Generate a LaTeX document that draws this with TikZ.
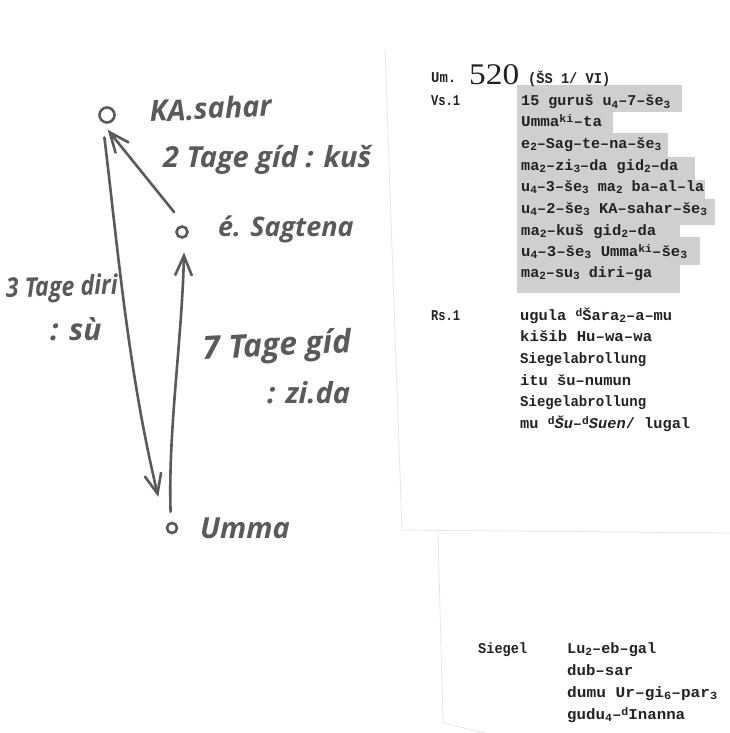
\documentclass[tikz,border=0pt]{standalone}
\usepackage{fontspec}
\usetikzlibrary{arrows.meta}
\setmainfont{Liberation Serif}
\newfontfamily\printfont{Liberation Mono}
\newfontfamily\handfont{Open Sans}
\newcommand{\dn}[1]{\raisebox{-2.5pt}{\fontsize{11}{11}\selectfont #1}}
\newcommand{\up}[1]{\raisebox{4pt}{\fontsize{11}{11}\selectfont #1}}
\newcommand{\fitw}[2]{\resizebox{#1pt}{\height}{#2}}
\definecolor{ink}{HTML}{222222}
\definecolor{pen}{HTML}{5A5A5A}
\definecolor{greyband}{HTML}{CFCFCF}
\definecolor{edge}{HTML}{E6E6E6}
\tikzset{
  x=1pt,y=-1pt,
  pr/.style={anchor=base west,inner sep=0pt,text=ink,font=\printfont\bfseries\fontsize{15}{15}\selectfont},
  hw/.style={anchor=base west,inner sep=0pt,text=pen,font=\handfont\itshape\bfseries\fontsize{#1}{#1}\selectfont},
  place/.style={circle,draw=pen,line width=2.6pt,inner sep=0pt,minimum size=#1},
  pencil/.style={draw=pen,line width=2.6pt,line cap=round},
  headed/.style={pencil,-{Straight Barb[length=20pt,width=17pt]}},
  paper/.style={draw=edge,line width=0.8pt},
  band/.style={fill=greyband}
}
\begin{document}
\begin{tikzpicture}
\useasboundingbox (0,0) rectangle (730,733);
\fill[white] (0,0) rectangle (730,733);
% paper edges
\draw[paper] (385,50) -- (402,530) -- (730,533);
\draw[paper] (438,533) -- (443,723) -- (485,733);
% shaded lines
\fill[band] (517,85) rectangle (682,112);
\fill[band] (517,112) rectangle (613,133);
\fill[band] (517,133) rectangle (668,157);
\fill[band] (517,157) rectangle (695,180);
\fill[band] (517,180) rectangle (705,199);
\fill[band] (517,199) rectangle (715,225);
\fill[band] (517,225) rectangle (680,237);
\fill[band] (517,237) rectangle (700,265);
\fill[band] (517,265) rectangle (680,293);
% places
\node[place=15pt] (ka) at (107,115) {};
\node[place=11pt] (eb) at (182,232) {};
\node[place=10pt] (um) at (172,528) {};
% routes
\draw[headed,shorten <=15pt,shorten >=32pt] (ka.240) .. controls (118,250) and (128,370) .. (um.west);
\draw[headed,shorten <=10pt,shorten >=14pt] (um.100) .. controls (168,430) and (182,340) .. (eb.-70);
\draw[headed,shorten <=18pt,shorten >=11pt] (eb.60) -- (ka.225);
% handwritten labels
\node[hw=29,rotate=3] (l1) at (150,122) {KA.sahar};
\node[hw=29] (l2) at (163,167) {2 Tage gíd : kuš};
\node[hw=27] (l3) at (218,236) {é. Sagtena};
\node[hw=27,rotate=2] (l4) at (6,298) {\fitw{112}{3 Tage diri}};
\node[hw=30] (l5) at (50,340) {: sù};
\node[hw=32,rotate=3] (l6) at (203,360) {7 Tage gíd};
\node[hw=29] (l7) at (267,403) {: zi.da};
\node[hw=29] (l8) at (200,538) {Umma};
% print: header
\node[pr] (t0) at (431,83) {\fitw{25}{Um.}};
\node[anchor=base west,inner sep=0pt,text=ink,font=\fontsize{30}{30}\selectfont] (t1) at (469,85) {\fitw{50}{520}};
\node[pr] (t2) at (528,84) {\fitw{82}{(ŠS 1/ VI)}};
\node[pr] (v0) at (431,106) {\fitw{29}{Vs.1}};
\node[pr] (v1) at (521,106) {\fitw{149}{15 guruš u\dn{4}–7–še\dn{3}}};
\node[pr] (v2) at (521,127) {\fitw{81}{Umma\up{ki}–ta}};
\node[pr] (v3) at (521,148) {\fitw{140}{e\dn{2}–Sag–te–na–še\dn{3}}};
\node[pr] (v4) at (521,170) {\fitw{157}{ma\dn{2}–zi\dn{3}–da gid\dn{2}–da}};
\node[pr] (v5) at (521,191) {\fitw{183}{u\dn{4}–3–še\dn{3} ma\dn{2} ba–al–la}};
\node[pr] (v6) at (521,213) {\fitw{186}{u\dn{4}–2–še\dn{3} KA–sahar–še\dn{3}}};
\node[pr] (v7) at (521,235) {\fitw{135}{ma\dn{2}–kuš gid\dn{2}–da}};
\node[pr] (v8) at (521,256) {\fitw{166}{u\dn{4}–3–še\dn{3} Umma\up{ki}–še\dn{3}}};
\node[pr] (v9) at (521,277) {\fitw{131}{ma\dn{2}–su\dn{3} diri–ga}};
\node[pr] (r0) at (431,320) {\fitw{29}{Rs.1}};
\node[pr] (r1) at (520,320) {\fitw{152}{ugula \up{d}Šara\dn{2}–a–mu}};
\node[pr] (r2) at (520,341) {\fitw{132}{kišib Hu–wa–wa}};
\node[pr] (r3) at (520,363) {\fitw{126}{Siegelabrollung}};
\node[pr] (r4) at (520,385) {\fitw{111}{itu šu–numun}};
\node[pr] (r5) at (520,406) {\fitw{126}{Siegelabrollung}};
\node[pr] (r6) at (520,428) {\fitw{170}{mu \up{d}{\itshape Šu}–\up{d}{\itshape Suen}/ lugal}};
\node[pr] (s0) at (478,653) {\fitw{49}{Siegel}};
\node[pr] (s1) at (567,653) {\fitw{89}{Lu\dn{2}–eb–gal}};
\node[pr] (s2) at (567,675) {\fitw{66}{dub–sar}};
\node[pr] (s3) at (567,697) {\fitw{150}{dumu Ur–gi\dn{6}–par\dn{3}}};
\node[pr] (s4) at (567,719) {\fitw{118}{gudu\dn{4}–\up{d}Inanna}};
\end{tikzpicture}
\end{document}
